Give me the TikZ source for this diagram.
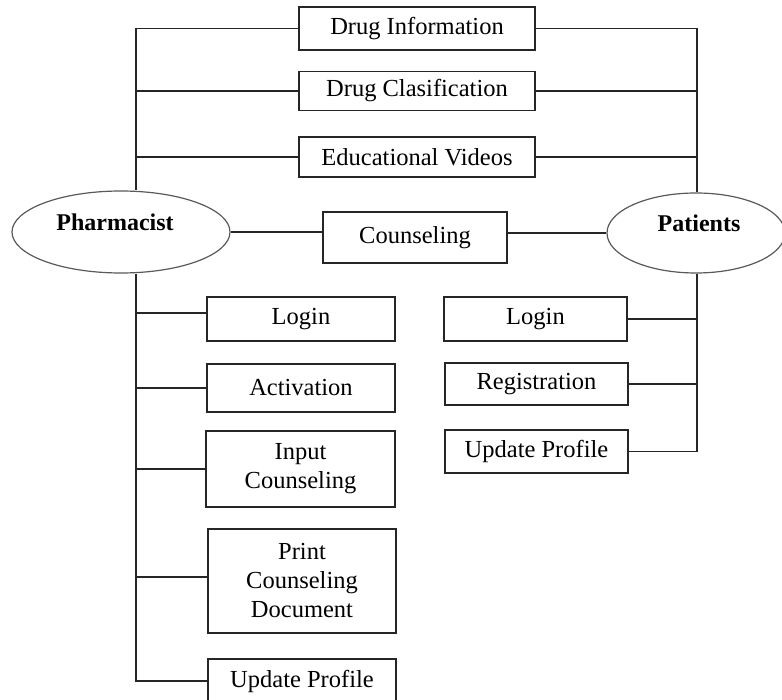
\documentclass[tikz,border=0pt]{standalone}
\usepackage{fontspec}
\setmainfont{Liberation Serif}
\usetikzlibrary{shapes.geometric}
\begin{document}
\begin{tikzpicture}[x=1pt,y=-1pt,
  box/.style={draw=black!85, line width=1.3pt, fill=white, inner sep=0pt, align=center, font=\fontsize{24.5}{29}\selectfont},
  actor/.style={draw=black!65, line width=1.2pt, ellipse, inner sep=0pt, fill=white},
  lbl/.style={inner sep=0pt, font=\fontsize{24}{29}\selectfont\bfseries},
  conn/.style={draw=black!85, line width=1.3pt}]
\useasboundingbox (0,0) rectangle (782,700);
% top boxes
\node[box, minimum width=236pt, minimum height=43pt] (di) at (417,28.5) {Drug Information};
\node[box, minimum width=236pt, minimum height=39pt] (dc) at (417,91) {Drug Clasification};
\node[box, minimum width=236pt, minimum height=40pt] (ev) at (417,157) {Educational Videos};
\node[box, minimum width=184pt, minimum height=51pt] (co) at (415,237.5) {Counseling};
% actors
\node[actor, minimum width=218pt, minimum height=82pt] (ph) at (121,232) {};
\node[lbl] (phl) at (115,222) {Pharmacist};
\node[actor, minimum width=178pt, minimum height=80pt] (pa) at (696,233) {};
\node[lbl] (pal) at (699,223) {Patients};
% pharmacist functions
\node[box, minimum width=188pt, minimum height=44pt] (l1) at (301,319) {Login};
\node[box, minimum width=188pt, minimum height=48pt] (l2) at (301,388) {Activation};
\node[box, minimum width=189pt, minimum height=76pt] (l3) at (300.5,469) {Input\\Counseling};
\node[box, minimum width=188pt, minimum height=104pt] (l4) at (302,581) {Print\\Counseling\\Document};
\node[box, minimum width=188pt, minimum height=44pt] (l5) at (302,681) {Update Profile};
% patient functions
\node[box, minimum width=183pt, minimum height=44pt] (r1) at (535.5,319) {Login};
\node[box, minimum width=183pt, minimum height=42pt] (r2) at (536.5,384) {Registration};
\node[box, minimum width=183pt, minimum height=43pt] (r3) at (536.5,451.5) {Update Profile};
% junction coordinates
\coordinate (lv1) at (ph.north -| 136,0);
\coordinate (lv2) at (ph.south -| 136,0);
\coordinate (rv1) at (pa.north -| 697,0);
\coordinate (rv2) at (pa.south -| 697,0);
% top connectors
\draw[conn] (di.west) -| (lv1);
\draw[conn] (dc.west) -- (dc.west -| lv1);
\draw[conn] (ev.west) -- (ev.west -| lv1);
\draw[conn] (di.east) -| (rv1);
\draw[conn] (dc.east) -- (dc.east -| rv1);
\draw[conn] (ev.east) -- (ev.east -| rv1);
% counseling
\draw[conn] (ph.east) -- (ph.east -| co.west);
\draw[conn] (pa.west -| co.east) -- (pa.west);
% pharmacist tree
\draw[conn] (lv2) |- (l5.west);
\draw[conn] ([yshift=6pt]l1.west) -- ([yshift=6pt]l1.west -| lv2);
\draw[conn] (l2.west) -- (l2.west -| lv2);
\draw[conn] (l3.west) -- (l3.west -| lv2);
\draw[conn] ([yshift=4pt]l4.west) -- ([yshift=4pt]l4.west -| lv2);
% patient tree
\draw[conn] (rv2) |- (r3.east);
\draw[conn] (r1.east) -- (r1.east -| rv2);
\draw[conn] (r2.east) -- (r2.east -| rv2);
\end{tikzpicture}
\end{document}
